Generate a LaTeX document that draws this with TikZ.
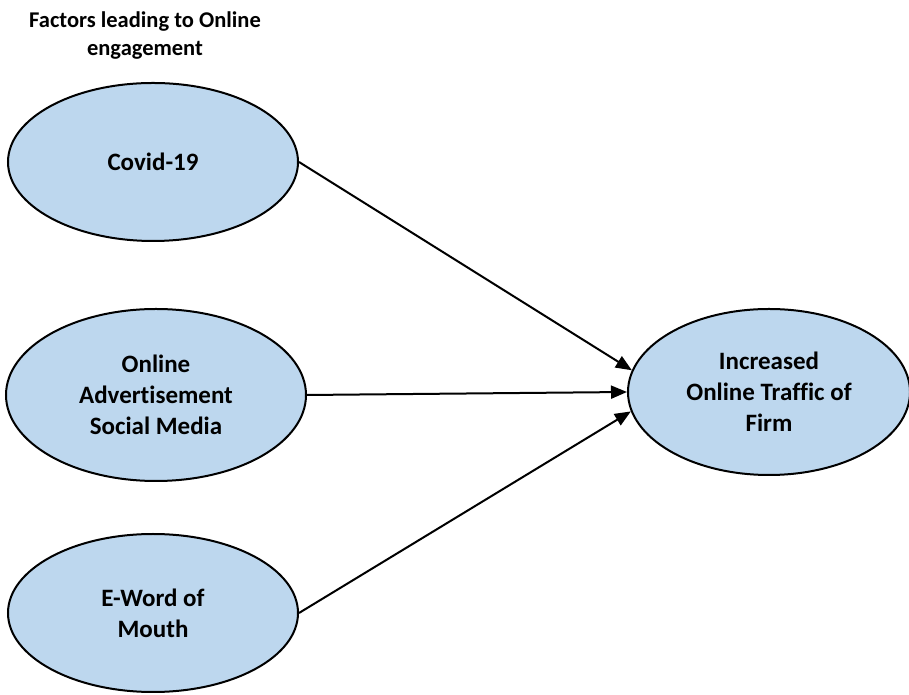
\documentclass[tikz,border=0pt]{standalone}
\usepackage{fontspec}
\setmainfont{Carlito}[Ligatures=NoCommon]
\usetikzlibrary{shapes.geometric,arrows.meta}
\definecolor{bubble}{RGB}{189,215,238}
\begin{document}
\begin{tikzpicture}[x=1pt,y=1pt,
  bubble/.style={ellipse,draw=black,line width=2pt,fill=bubble,inner sep=0pt,
    align=center,font=\bfseries\fontsize{25}{31}\selectfont},
  link/.style={line width=2pt,-{Triangle[length=16pt,width=13pt]}}]
\useasboundingbox (0,0) rectangle (909,695);
\node[align=center,font=\bfseries\fontsize{22.5}{28}\selectfont] (title) at (145,659) {Factors leading to Online\\engagement};
\node[bubble,minimum width=290pt,minimum height=158pt] (covid) at (153,533) {Covid-19};
\node[bubble,minimum width=300pt,minimum height=172pt] (adv) at (156,300) {Online\\Advertisement\\Social Media};
\node[bubble,minimum width=290pt,minimum height=158pt] (eword) at (153,82) {E-Word of\\Mouth};
\node[bubble,minimum width=282pt,minimum height=166pt] (incr) at (769,303) {Increased\\Online Traffic of\\Firm};
\draw[link] (covid.east) -- (incr.171);
\draw[link] (adv.east) -- (incr.west);
\draw[link] (eword.east) -- (incr.188);
\end{tikzpicture}
\end{document}
